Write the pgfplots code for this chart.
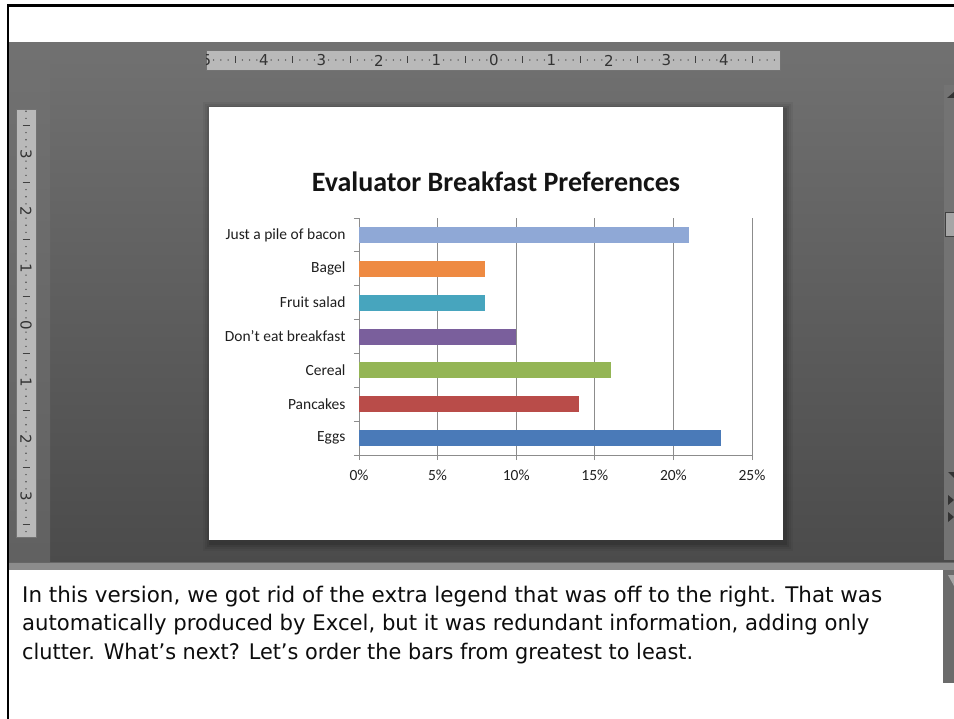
\documentclass[border=0pt]{standalone}
\usepackage{fontspec}
\usepackage{pgfplots}
\pgfplotsset{compat=1.18}
\setmainfont{Carlito}
\newfontfamily\notefont{DejaVu Sans}
\newfontfamily\rulerfont{DejaVu Sans}
\definecolor{cEggs}{HTML}{4A7AB8}
\definecolor{cPan}{HTML}{B94C49}
\definecolor{cCer}{HTML}{94B555}
\definecolor{cDont}{HTML}{7A5F9C}
\definecolor{cFruit}{HTML}{47A5BE}
\definecolor{cBagel}{HTML}{EE8A42}
\definecolor{cBacon}{HTML}{8FA8D6}
\definecolor{grayTop}{HTML}{717171}
\definecolor{grayBot}{HTML}{4B4B4B}
\definecolor{rulerC}{HTML}{B9B9B9}
\definecolor{gridC}{HTML}{8C8C8C}
\begin{document}
\begin{tikzpicture}
\useasboundingbox (0pt,0pt) rectangle (954pt,-719pt);
\begin{scope}[x=1pt,y=-1pt]
  \fill[white] (0,0) rectangle (954,719);
  % gray workspace
  \shade[top color=grayTop, bottom color=grayBot] (9,43) rectangle (954,562);
  \shade[top color=grayTop, bottom color=black!62] (9,43) rectangle (50,562);
  % separator
  \fill[black!45] (9,562) rectangle (954,570);
  \draw[black!60, line width=1pt] (9,562.5) -- (954,562.5);
  % notes scrollbar
  \fill[black!58] (943,570) rectangle (954,683);
  \fill[black!35] (948,575) -- (954,575) -- (954,586) -- cycle;
  % right scrollbar
  \fill[black!55] (944,85) rectangle (954,560);
  \fill[black!80] (947,98) -- (954,92) -- (954,98) -- cycle;
  \draw[black!75, fill=black!35] (945,212) rectangle (954,236);
  \fill[black!80] (948,472) -- (954,472) -- (954,478) -- cycle;
  \fill[black!80] (948,495) -- (954,500) -- (948,505) -- cycle;
  \fill[black!80] (948,512) -- (954,517) -- (948,522) -- cycle;
  % slide shadow
  \foreach \s/\o in {8/0.05,6/0.06,4/0.08,2/0.10}{
    \fill[black, opacity=\o] (209-\s+2,107-\s+3) rectangle (783+\s+2,540+\s+3);
  }
  \fill[white] (209,107) rectangle (783,540);
  % horizontal ruler
  \fill[rulerC] (206,50) rectangle (780,70);
  \draw[black!55, line width=0.6pt] (206,50) rectangle (780,70);
  \foreach \k in {-39,...,39}{
    \pgfmathsetmacro{\xx}{494+\k*57.5/8}
    \pgfmathtruncatemacro{\m}{mod(abs(\k),8)}
    \ifdim \xx pt>207pt \ifdim \xx pt<779pt
      \ifnum\m=0
      \else\ifnum\m=4
        \draw[black!75, line width=0.9pt] (\xx,56.5) -- (\xx,63.5);
      \else
        \fill[black!70] (\xx,60) circle (0.8);
      \fi\fi
    \fi\fi
  }
  \foreach \n in {-4,...,4}{
    \pgfmathtruncatemacro{\a}{abs(\n)}
    \node[font=\rulerfont\fontsize{15}{15}\selectfont, text=black!80, inner sep=0pt] at (494+\n*57.5,60.5) {\a};
  }
  \begin{scope}
    \clip (206,50) rectangle (212,70);
    \node[font=\rulerfont\fontsize{15}{15}\selectfont, text=black!80, inner sep=0pt] at (206.5,60.5) {5};
  \end{scope}
  % vertical ruler
  \fill[rulerC] (16,109) rectangle (36,537);
  \draw[black!55, line width=0.6pt] (16,109) rectangle (36,537);
  \foreach \k in {-30,...,30}{
    \pgfmathsetmacro{\yy}{325+\k*57/8}
    \pgfmathtruncatemacro{\m}{mod(abs(\k),8)}
    \ifdim \yy pt>111pt \ifdim \yy pt<535pt
      \ifnum\m=0
      \else\ifnum\m=4
        \draw[black!75, line width=0.9pt] (22.5,\yy) -- (29.5,\yy);
      \else
        \fill[black!70] (26,\yy) circle (0.8);
      \fi\fi
    \fi\fi
  }
  \foreach \n in {-3,...,3}{
    \pgfmathtruncatemacro{\a}{abs(\n)}
    \node[font=\rulerfont\fontsize{15}{15}\selectfont, text=black!80, inner sep=0pt, rotate=-90] at (26,325+\n*57) {\a};
  }
  % frame
  \draw[black, line width=2.4pt] (8,719) -- (8,5.5) -- (954,5.5);
  % title
  \node[font=\bfseries\fontsize{28}{30}\selectfont, text=black!92, anchor=base] at (496,192) {Evaluator Breakfast Preferences};
  % notes text
  \begin{scope}[every node/.style={anchor=base west, inner sep=0pt, font=\notefont\fontsize{21.5}{26}\selectfont, text=black!95}]
    \node at (22,602) {\resizebox{860pt}{\height}{In this version, we got rid of the extra legend that was off to the right. That was}};
    \node at (22,630.5) {\resizebox{847pt}{\height}{automatically produced by Excel, but it was redundant information, adding only}};
    \node at (22,659) {\resizebox{671pt}{\height}{clutter. What’s next? Let’s order the bars from greatest to least.}};
  \end{scope}
\end{scope}
\begin{axis}[
  at={(359pt,-455pt)}, anchor=south west,
  scale only axis, width=393pt, height=237pt,
  xbar, bar width=16pt, bar shift=0pt,
  xmin=0, xmax=25, ymin=-0.5, ymax=6.5,
  axis x line*=bottom, axis y line*=left,
  axis line style={draw=gridC, line width=0.9pt},
  xtick={0,5,10,15,20,25},
  xticklabels={0\%,5\%,10\%,15\%,20\%,25\%},
  ytick={-0.5,0.5,1.5,2.5,3.5,4.5,5.5,6.5},
  y tick label as interval,
  yticklabels={Eggs,Pancakes,Cereal,Don't eat breakfast,Fruit salad,Bagel,Just a pile of bacon},
  tick align=outside, major tick length=5pt,
  tick style={draw=gridC, line width=0.9pt},
  xmajorgrids, grid style={draw=gridC, line width=0.9pt},
  ticklabel style={font=\fontsize{15.5}{18}\selectfont, text=black!88},
  xticklabel style={yshift=-6pt},
  yticklabel style={xshift=-5pt},
]
\addplot[fill=cEggs, draw=none] coordinates {(23,0)};
\addplot[fill=cPan, draw=none] coordinates {(14,1)};
\addplot[fill=cCer, draw=none] coordinates {(16,2)};
\addplot[fill=cDont, draw=none] coordinates {(10,3)};
\addplot[fill=cFruit, draw=none] coordinates {(8,4)};
\addplot[fill=cBagel, draw=none] coordinates {(8,5)};
\addplot[fill=cBacon, draw=none] coordinates {(21,6)};
\end{axis}
\end{tikzpicture}
\end{document}
